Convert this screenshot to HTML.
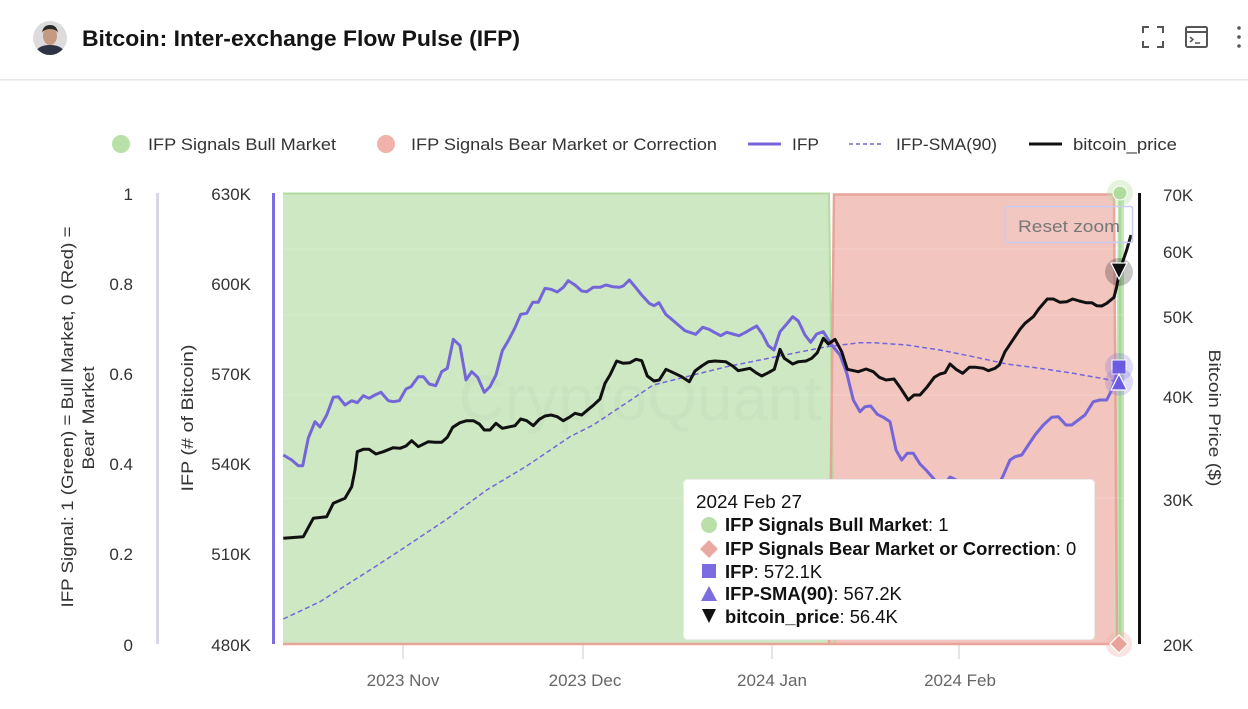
<!DOCTYPE html>
<html><head><meta charset="utf-8"><style>
html,body{margin:0;padding:0;background:#fff;width:1248px;height:709px;overflow:hidden}
svg{display:block;font-family:"Liberation Sans",Arial,sans-serif}
</style></head><body>
<svg width="1248" height="709" viewBox="0 0 1248 709" xmlns="http://www.w3.org/2000/svg">
<rect width="1248" height="709" fill="#fff"/>
<!-- header -->
<clipPath id="av"><circle cx="50" cy="38" r="17"/></clipPath>
<g clip-path="url(#av)">
<rect x="33" y="21" width="34" height="34" fill="#dcdcdc"/>
<ellipse cx="50" cy="36" rx="7" ry="9" fill="#c49a82"/>
<path d="M42 33 Q43 25 50 25 Q57 25 58 33 Q56 29 50 29 Q44 29 42 33Z" fill="#2a2a2a"/>
<path d="M34 56 Q36 45 50 45 Q64 45 66 56Z" fill="#2e3445"/>
</g>
<text x="82" y="46" font-size="22" font-weight="bold" fill="#141414" textLength="438" lengthAdjust="spacingAndGlyphs">Bitcoin: Inter-exchange Flow Pulse (IFP)</text>
<g stroke="#555" stroke-width="2" fill="none">
<path d="M1143 33V27H1149M1157 27H1163V33M1163 41V47H1157M1149 47H1143V41"/>
<rect x="1186" y="27" width="21" height="20" rx="1.5"/>
<path d="M1186 32H1207"/>
<path d="M1190 37L1193 39.5L1190 42M1195 43H1200" stroke-width="1.5"/>
</g>
<g fill="#555"><circle cx="1239" cy="28" r="1.8"/><circle cx="1239" cy="37" r="1.8"/><circle cx="1239" cy="46" r="1.8"/></g>
<rect x="0" y="79" width="1248" height="1.5" fill="#e6e6ee"/>

<!-- legend -->
<circle cx="121" cy="144" r="9" fill="#b8e0a8"/>
<text x="148" y="150" font-size="17" fill="#333" textLength="188" lengthAdjust="spacingAndGlyphs">IFP Signals Bull Market</text>
<circle cx="386" cy="144" r="9" fill="#f0b2aa"/>
<text x="411" y="150" font-size="17" fill="#333" textLength="306" lengthAdjust="spacingAndGlyphs">IFP Signals Bear Market or Correction</text>
<line x1="748" y1="144" x2="781" y2="144" stroke="#7466d8" stroke-width="3"/>
<text x="792" y="150" font-size="17" fill="#333" textLength="27" lengthAdjust="spacingAndGlyphs">IFP</text>
<line x1="849" y1="144" x2="884" y2="144" stroke="#7466d8" stroke-width="1.5" stroke-dasharray="4,3"/>
<text x="896" y="150" font-size="17" fill="#333" textLength="101" lengthAdjust="spacingAndGlyphs">IFP-SMA(90)</text>
<line x1="1029" y1="144" x2="1062" y2="144" stroke="#111" stroke-width="3"/>
<text x="1073" y="150" font-size="17" fill="#333" textLength="104" lengthAdjust="spacingAndGlyphs">bitcoin_price</text>

<!-- axis titles -->
<g font-size="17" fill="#333" text-anchor="middle">
<text transform="translate(73,417) rotate(-90)" textLength="381" lengthAdjust="spacingAndGlyphs">IFP Signal: 1 (Green) = Bull Market, 0 (Red) =</text>
<text transform="translate(94,418) rotate(-90)" textLength="103" lengthAdjust="spacingAndGlyphs">Bear Market</text>
<text transform="translate(193,418) rotate(-90)" textLength="147" lengthAdjust="spacingAndGlyphs">IFP (# of Bitcoin)</text>
<text transform="translate(1209,418) rotate(90)" textLength="137" lengthAdjust="spacingAndGlyphs">Bitcoin Price ($)</text>
</g>
<!-- axis labels -->
<g font-size="17" fill="#333" text-anchor="end">
<text x="133" y="200">1</text><text x="133" y="290">0.8</text><text x="133" y="380">0.6</text>
<text x="133" y="470">0.4</text><text x="133" y="560">0.2</text><text x="133" y="651">0</text>
<text x="251" y="200">630K</text><text x="251" y="290">600K</text><text x="251" y="380">570K</text>
<text x="251" y="470">540K</text><text x="251" y="560">510K</text><text x="251" y="651">480K</text>
</g>
<g font-size="17" fill="#333">
<text x="1163" y="201">70K</text><text x="1163" y="258">60K</text><text x="1163" y="323">50K</text>
<text x="1163" y="403">40K</text><text x="1163" y="506">30K</text><text x="1163" y="651">20K</text>
</g>
<g font-size="17" fill="#666" text-anchor="middle">
<text x="403" y="686">2023 Nov</text><text x="585" y="686">2023 Dec</text>
<text x="772" y="686">2024 Jan</text><text x="960" y="686">2024 Feb</text>
</g>
<g stroke="#dcdcdc" stroke-width="1.5">
<line x1="403" y1="645" x2="403" y2="659"/><line x1="583" y1="645" x2="583" y2="659"/>
<line x1="772" y1="645" x2="772" y2="659"/><line x1="959" y1="645" x2="959" y2="659"/>
</g>
<!-- axis lines -->
<rect x="156" y="193" width="3" height="451" fill="#d6d6e4"/>
<rect x="272" y="193" width="3" height="451" fill="#7b6ce0"/>
<rect x="1138" y="193" width="3" height="451" fill="#111"/>

<!-- areas -->
<polygon points="283,193 829,193 835,644 283,644" fill="#cfe8c4"/>
<polygon points="829,644 835,194 1114,194 1118,644" fill="#f2c5bf"/>
<polygon points="1114,644 1118,193 1124,193 1124,644" fill="#c4e4b6"/>
<g fill="none">
<polyline points="283,193.5 829,193.5 835,644" stroke="#b3dba2" stroke-width="2"/>
<polyline points="829,644 834,194.5 1114,194.5 1117,644" stroke="#e8a499" stroke-width="2.5"/>
<line x1="1120" y1="193" x2="1120" y2="644" stroke="#a8d898" stroke-width="2.5"/>
<line x1="283" y1="644" x2="1120" y2="644" stroke="#e8a499" stroke-width="2.5"/>
</g>
<!-- gridlines -->
<g stroke="rgba(255,255,255,0.18)" stroke-width="1">
<line x1="283" y1="249" x2="1133" y2="249"/><line x1="283" y1="315" x2="1133" y2="315"/>
<line x1="283" y1="395" x2="1133" y2="395"/><line x1="283" y1="498" x2="1133" y2="498"/>
</g>
<!-- watermark -->
<text x="640" y="420" font-size="64" fill="rgba(120,140,120,0.06)" text-anchor="middle">CryptoQuant</text>

<!-- SMA -->
<polyline fill="none" stroke="#7466d8" stroke-width="1.5" stroke-dasharray="5,3" points="283.3,619 320,601.7 370,570 403.3,548.3 446.7,519.3 486.7,490 526.7,466 570,436.7 593.3,425 626.7,402.7 653.3,385 693.3,375 726.7,366.7 760,360 793.3,353.3 826.7,346.7 860,342.7 873.3,342.7 906.7,345 940,350 973.3,356.7 1006.7,364 1040,368.3 1073.3,373.3 1106.7,379.3 1119,382"/>
<!-- IFP -->
<polyline fill="none" stroke="#7466d8" stroke-width="3" stroke-linejoin="round" points="283.3,455 291.7,460 298.3,465.7 302.7,465.7 308.3,438 315,421.7 320,427 326.7,415 333.3,397.3 338.3,396.7 345,405 351.7,400.7 357.3,402.7 363.3,395.7 369,398.3 375,395 381,392.3 388.3,400.7 393.3,401.7 399.3,400.7 406,389 411,386.7 418.3,376.7 423.3,376.7 429.3,384 435.7,385.7 441.7,371.7 447.3,368.3 453.3,339.3 460,345.7 466,380 471.7,371.7 477.7,377.3 484.3,392.3 490,386.7 496,375 502.3,350.7 508.3,340.7 515,327.7 520.7,314.3 526.7,313.3 532.7,302.3 538.3,302.3 545,288.3 551,289.3 557.3,292 563.3,287.3 568.3,280.7 575,285 581.7,291 586.7,291.7 593.3,287.3 600,287.3 606,285 612.7,286.7 619.3,287.3 623.3,286 629.3,280 635,286.7 641.7,295 649.3,303.3 654,305.7 659,302.7 665.7,314.3 671.7,319.3 678.3,325 685,330.7 695.7,334.3 702.7,327.3 709,329.3 714.3,332.3 720.7,335.7 726.7,332.3 732.7,334 739,335.7 745,332.7 750.7,329.3 756.7,326 762.3,334 768.3,345.7 774,350 780,331.7 786.7,324 792.7,316.7 798.3,321 805,335 810.7,342.3 816.7,334 823.3,331.7 831.7,345 840,355 846.7,373 853.3,400 860,411.7 865,406.7 870.7,406 877.3,414.3 883.3,417.3 890,421.7 896,450 901.7,460 907.3,453.3 913.3,453.3 920,464 926,470 933.3,478.3 942,488 950,477 958,481 970,492 985,497 995,490 1002.7,476.7 1010,460 1015,456.7 1021.7,455 1028.3,445 1035,435 1043.3,425 1051.7,417.3 1058.3,416.7 1066,425 1071.7,425 1078.3,420 1085,415 1093.3,401.7 1100,400 1106.7,400 1111.7,390 1119,367"/>
<!-- bitcoin price -->
<polyline fill="none" stroke="#111" stroke-width="3" stroke-linejoin="round" points="283.3,538.3 303.3,536.7 313.3,518.3 326.7,516.7 333.3,503.3 345,498.3 351.7,486.7 355,470 357.3,451.7 363.3,449.3 369,449.3 376,454 383.3,451.7 393.3,447.7 400,448.3 406,446 411.7,440.7 418.3,446.7 428.3,441.7 435,442.3 441.7,442.3 447.3,437.3 452.7,427.3 460,422.7 466.7,420.7 473.3,420.7 479.3,424 484.3,430 490,430 496,423.3 502.3,428.3 510,426.7 515,425.7 520.7,419 526.7,420.7 533.3,425.7 539.3,419.3 545,416 551,415 557.3,416.7 563.3,420.7 569.3,417.3 575,413.3 581.7,415 586.7,410.7 593.3,405.3 600,399 605,383.3 610,375 616.7,361 623.3,363.3 630,362.7 636,359.3 641.7,360.7 647.3,376 654,381 659.3,380 666,369.3 673.3,372.7 681.7,376.7 689.3,381.7 695,371 701.7,366 708.3,361.7 715,361 725.7,361.7 732.7,366 738.3,370.7 750,368.3 756,372.7 761.7,376 768.3,372.7 774.3,369.3 780,349.3 784.3,358.3 792.7,364 798.3,361.7 806,361 811.7,358.3 817.3,352.7 823.3,338.3 828.3,344 835,339.3 841.7,351.7 847.3,369.3 858.3,371.7 866,369 873.3,371.7 879.3,377.3 886,380 894,379 900.7,388.3 908.3,400 914,395 920,395 927.3,386.7 934.3,377.3 940,374 945,372.7 950,364 956,369.3 962.7,373.3 969.3,367.3 976,367.3 983.3,368.3 988.3,370.7 995,368.3 999.3,365 1005,351.7 1011.7,341.7 1020,329.3 1025,323.3 1033.3,316.7 1039.3,308.3 1047.3,299 1053.3,299 1060,302.3 1066.7,301.7 1072.7,299 1079.3,301 1086,302.7 1091.7,302.7 1096.7,305.7 1101.7,306 1106.7,303.3 1114,297.3 1116.7,286.7 1119.3,271.7 1126.7,250 1131,235"/>

<!-- reset zoom -->
<rect x="1005.5" y="206.5" width="127" height="36" rx="2" fill="rgba(255,255,255,0.05)" stroke="#c8cbf2" stroke-width="1.5"/>
<text x="1069" y="232" font-size="17" fill="#777" text-anchor="middle" textLength="102" lengthAdjust="spacingAndGlyphs">Reset zoom</text>

<!-- hover markers -->
<circle cx="1120" cy="193" r="13" fill="rgba(184,224,168,0.4)"/>
<circle cx="1120" cy="193" r="7" fill="#b0dc9e" stroke="#fff" stroke-width="1"/>
<circle cx="1119" cy="272" r="14" fill="rgba(0,0,0,0.22)"/>
<polygon points="1111,263 1127,263 1119,279" fill="#111" stroke="#fff" stroke-width="1.2"/>
<circle cx="1119" cy="367" r="14" fill="rgba(123,108,224,0.25)"/>
<rect x="1112" y="360" width="14" height="14" fill="#6a5be0" stroke="#fff" stroke-width="1"/>
<circle cx="1119" cy="382" r="14" fill="rgba(123,108,224,0.25)"/>
<polygon points="1111,390 1127,390 1119,374" fill="#6a5be0" stroke="#fff" stroke-width="1.2"/>
<circle cx="1119" cy="644" r="13" fill="rgba(240,178,170,0.35)"/>
<polygon points="1119,635 1128,644 1119,653 1110,644" fill="#e8a499" stroke="#fff" stroke-width="1.2"/>

<!-- tooltip -->
<rect x="683.5" y="479.5" width="411" height="160" rx="4" fill="#fff" stroke="#ececec" stroke-width="1"/>
<g font-size="18.4" fill="#111">
<text x="696" y="508" textLength="106" lengthAdjust="spacingAndGlyphs">2024 Feb 27</text>
<circle cx="709" cy="525" r="8" fill="#b8e0a8"/>
<text x="725" y="531"><tspan font-weight="bold">IFP Signals Bull Market</tspan>: 1</text>
<polygon points="709,540 718,549 709,558 700,549" fill="#eaaaa1"/>
<text x="725" y="555"><tspan font-weight="bold">IFP Signals Bear Market or Correction</tspan>: 0</text>
<rect x="702" y="564" width="14" height="14" fill="#7b6ce0"/>
<text x="725" y="578"><tspan font-weight="bold">IFP</tspan>: 572.1K</text>
<polygon points="701,601 717,601 709,586" fill="#7b6ce0"/>
<text x="725" y="600"><tspan font-weight="bold">IFP-SMA(90)</tspan>: 567.2K</text>
<polygon points="702,609 716,609 709,623" fill="#111"/>
<text x="725" y="623"><tspan font-weight="bold">bitcoin_price</tspan>: 56.4K</text>
</g>
</svg>
</body></html>
